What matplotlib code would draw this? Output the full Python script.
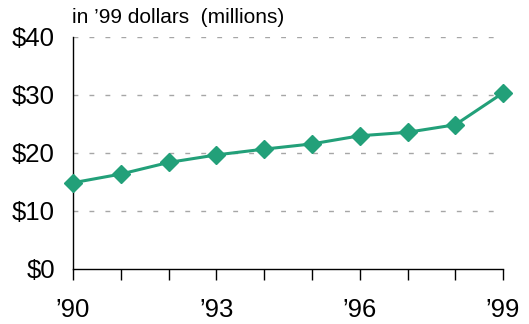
import matplotlib.pyplot as plt
import numpy as np

plt.rcParams['font.family'] = ['Liberation Sans', 'DejaVu Sans']

years = np.arange(1990, 2000)
values = [14.8, 16.3, 18.3, 19.6, 20.6, 21.5, 22.9, 23.5, 24.8, 30.3]
yticks = [0, 10, 20, 30, 40]
ytick_labels = ['$0', '$10', '$20', '$30', '$40']
xtick_years = [1990, 1993, 1996, 1999]
xtick_labels = ["\u201990", "\u201993", "\u201996", "\u201999"]

fig = plt.figure(figsize=(5.29, 3.24), dpi=100)
ax = fig.add_axes([0.138, 0.171, 0.813, 0.716])

# dashed guides, none at zero
for y in yticks[1:]:
    ax.axhline(y, color='#a6a6a6', lw=1, ls=(0, (3.5, 8)), zorder=1)

ax.plot(years, values, color='#22a079', lw=2.2, marker='D', markersize=9.5,
        zorder=3, clip_on=False)

ax.set_xlim(1990, 1999)
ax.set_ylim(0, 40)
ax.set_yticks(yticks)
ax.set_yticklabels(ytick_labels, fontsize=18.5)
ax.set_xticks(years)
ax.set_xticklabels([xtick_labels[xtick_years.index(y)] if y in xtick_years else ''
                    for y in years], fontsize=18.5)
ax.tick_params(axis='y', length=0, pad=13)
ax.tick_params(axis='x', length=8, width=1, direction='out', pad=13)

for s in ['top', 'right']:
    ax.spines[s].set_visible(False)
ax.spines['left'].set_linewidth(1)
ax.spines['bottom'].set_linewidth(1)

fig.text(0.136, 0.945, "in \u201999 dollars  (millions)", fontsize=15,
         ha='left', va='center')

fig.savefig('out.png', dpi=100)
